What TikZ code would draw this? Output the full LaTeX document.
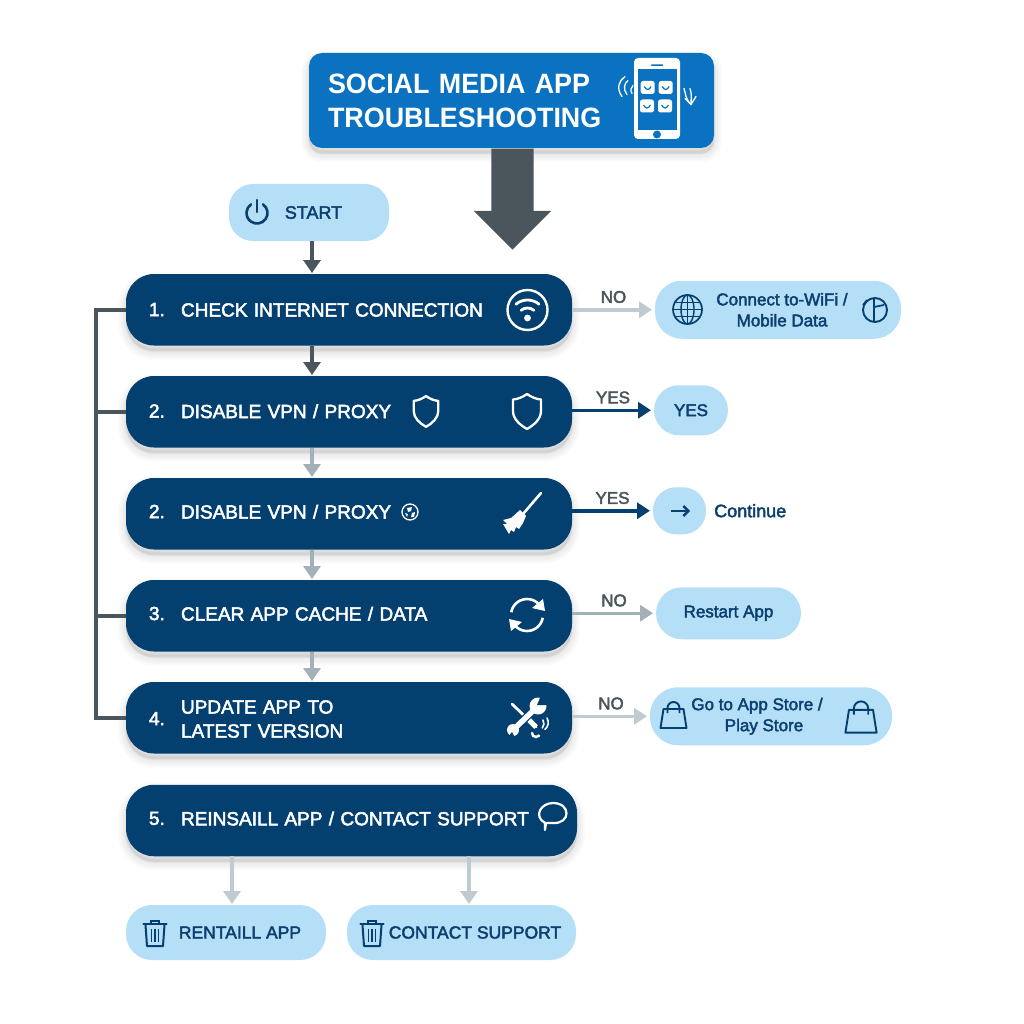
\documentclass[tikz,border=0pt]{standalone}
\usepackage{fontspec}
\setmainfont{Liberation Sans}
\newfontfamily\medfont{Liberation Sans}[FakeBold=2.4]
\newfontfamily\stepfont{Liberation Sans}[FakeBold=2.6, WordSpace=1.15]
\newfontfamily\titlefont{Liberation Sans}[FakeStretch=0.96, WordSpace=1.9]
\usepackage{tikz}
\usetikzlibrary{positioning}
\usetikzlibrary{shapes.arrows}
\usetikzlibrary{arrows.meta}

\definecolor{navy}{HTML}{03406F}
\definecolor{navytext}{HTML}{0B3F70}
\definecolor{sky}{HTML}{B5DEF7}
\definecolor{headblue}{HTML}{0A72C0}
\definecolor{slate}{HTML}{4A555C}
\definecolor{midgray}{HTML}{A4B0B8}
\definecolor{palegray}{HTML}{BFCBD0}

\newcommand{\stepline}[3][0pt]{\raisebox{#1}[\height][\depth]{\makebox[32pt][l]{#2}\begin{tabular}[c]{@{}l@{}}#3\end{tabular}}}

\tikzset{
    softshadow/.style={
        preaction={draw=black, fill=black, line width=16pt, opacity=.018, transform canvas={yshift=-6pt}},
        preaction={draw=black, fill=black, line width=12pt, opacity=.02, transform canvas={yshift=-6pt}},
        preaction={draw=black, fill=black, line width=8pt, opacity=.025, transform canvas={yshift=-6pt}},
        preaction={draw=black, fill=black, line width=4pt, opacity=.03, transform canvas={yshift=-5pt}}},
    stepbox/.style={softshadow, fill=navy, text=white, rounded corners=28pt, minimum height=71.5pt,
        minimum width=446pt, text width=400pt, inner xsep=23pt, inner ysep=0pt, outer sep=0pt,
        align=left, font=\stepfont\fontsize{19}{24}\selectfont},
    pill/.style={fill=sky, text=navytext, rounded corners=#1, inner sep=0pt, outer sep=0pt,
        align=center, font=\medfont\fontsize{17}{21}\selectfont},
    pill/.default=25pt,
    flow/.style={line width=4pt, -{Triangle[width=17pt,length=13pt]}, shorten >=1pt},
    side/.style={line width=3.5pt, -{Triangle[width=16pt,length=13pt]}, shorten >=3pt},
    answer/.style={above=5pt, text=slate, inner sep=0pt, font=\medfont\fontsize{17}{20}\selectfont},
    wifiicon/.pic={
        \draw[white, line width=2.4pt] (0,0) circle (20pt);
        \draw[white, line width=2.8pt, line cap=round] (50:18pt) ++(0,-8) arc (50:130:18pt);
        \draw[white, line width=2.8pt, line cap=round] (50:10pt) ++(0,-8) arc (50:130:10pt);
        \fill[white] (0,-8) circle (3.4pt);
    },
    shieldicon/.pic={
        \draw[white, line width=2.3pt, line join=round] (0,17) .. controls (5,13.5) and (9,12) .. (14,11.5)
            -- (14,0) .. controls (14,-8) and (7,-14) .. (0,-18)
            .. controls (-7,-14) and (-14,-8) .. (-14,0) -- (-14,11.5)
            .. controls (-9,12) and (-5,13.5) .. cycle;
    },
    broomicon/.pic={
        \draw[white, line width=2.6pt, line cap=round] (19,22) -- (1,1);
        \fill[white] (-2,5) -- (4,-1) -- (1,-8) -- (-3,-14) -- (-6,-12) -- (-8,-17) -- (-11,-15) -- (-13,-19)
            -- (-19,-9) -- (-15,-9) -- (-19,-5) -- (-11,-3) -- cycle;
    },
    syncicon/.pic={
        \draw[white, line width=2.6pt] (170:16pt) arc (170:40:16pt);
        \draw[white, line width=2.6pt] (-10:16pt) arc (-10:-140:16pt);
        \fill[white] (18,4) -- (5,7) -- (16,16) -- cycle;
        \fill[white] (-18,-4) -- (-5,-7) -- (-16,-16) -- cycle;
    },
    toolsicon/.pic={
        \draw[white, line width=2.8pt, line cap=round] (-15,14) -- (9,-9);
        \draw[white, line width=5pt] (2,-2) -- (9,-9);
        \draw[navy, line width=8pt] (-5,-3.5) -- (1,2.5);
        \draw[white, line width=5.5pt] (-13,-11) -- (9,10);
        \fill[white] (11,12) circle (8.5pt);
        \fill[navy] (10,13) -- (23,13) -- (15,25) -- cycle;
        \fill[white] (-14,-12) circle (6pt);
        \fill[navy] (-15,-14) -- (-12,-20) -- (-19,-19) -- cycle;
        \draw[white, line width=2.5pt, line cap=round] (5,-15) arc (180:320:4pt);
        \draw[white, line width=1.6pt, line cap=round] (16,-2) arc (30:-40:7pt);
        \draw[white, line width=1.6pt, line cap=round] (20,0) arc (30:-50:9pt);
    },
    chaticon/.pic={
        \draw[white, line width=2.2pt, line join=round] (-8,-8) .. controls (-20,-1) and (-12,12) .. (0,12)
            .. controls (18,12) and (18,-9) .. (0,-8) -- (-7,-8) -- (-8,-15) -- cycle;
    },
    trashicon/.pic={
        \draw[navy, line width=2pt, line join=round] (-9.5,8) -- (-8,-13) -- (8,-13) -- (9.5,8);
        \draw[navy, line width=2.2pt, line cap=round] (-11.5,9) -- (11.5,9);
        \draw[navy, line width=1.8pt] (-4,9) -- (-4,12) -- (4,12) -- (4,9);
        \foreach \barx in {-3.5,0,3.5} {
            \draw[navy, line width=1.6pt] (\barx,4) -- (\barx,-9);
        }
    },
    bagicon/.pic={
        \draw[navy, line width=1.9pt, line join=round] (-10,6) -- (10,6) -- (13,-13) -- (-13,-13) -- cycle;
        \draw[navy, line width=1.9pt] (-6,2) -- (-6,7) arc (180:0:6pt) -- (6,2);
    },
    globeicon/.pic={
        \draw[navy, line width=1.7pt] (0,0) circle (14.5pt);
        \draw[navy, line width=1.4pt] (0,0) ellipse (6.5pt and 14.5pt);
        \draw[navy, line width=1.4pt] (0,14.5) -- (0,-14.5) (-14.5,0) -- (14.5,0);
        \draw[navy, line width=1.4pt] (-12.5,7) -- (12.5,7) (-12.5,-7) -- (12.5,-7);
    },
    clockicon/.pic={
        \draw[navy, line width=1.9pt] (0,0) circle (12pt);
        \draw[navy, line width=1.7pt] (-1,12) -- (-1,3) -- (9,5) (-1,3) -- (-1,-12);
        \draw[navy, line width=1.7pt] (-12,5) -- (-8,10);
    },
    powericon/.pic={
        \draw[navytext, line width=2.6pt, line cap=round] (55:10.5pt) arc (55:-235:10.5pt);
        \draw[navytext, line width=2.6pt, line cap=round] (0,13) -- (0,1);
    },
    miniglobeicon/.pic={
        \draw[white, line width=1.3pt] (0,0) circle (8pt);
        \fill[white] (-3,4) -- (2,5) -- (1,1) -- (-2,0) -- cycle;
        \fill[white] (2,-1) -- (5,0) -- (4,-5) -- (1,-5) -- cycle;
        \fill[white] (-5,-1) -- (-2,-2) -- (-3,-5) -- cycle;
    },
    phoneicon/.pic={
        \fill[white, rounded corners=4pt] (-23,40.5) rectangle (23,-40.5);
        \fill[headblue] (-19.5,29) rectangle (19.5,-31.5);
        \fill[headblue, rounded corners=.5pt] (-6,34) rectangle (6,32.5);
        \fill[headblue] (0,-36) circle (4pt);
        \foreach \appx/\appy in {-9.3/11,8.7/11,-10/-7.5,8/-7.5} {
            \fill[white, rounded corners=2.5pt] (\appx-7,\appy-6.5) rectangle (\appx+7,\appy+6.5);
            \draw[headblue, line width=1.2pt] (\appx-3.5,\appy+1) .. controls (\appx-1,\appy-3) and (\appx+1,\appy-3) .. (\appx+3.5,\appy+1);
        }
        \draw[white, line width=1.3pt, line cap=round] (-35,2) .. controls (-41,10) and (-38,18) .. (-32,22);
        \draw[white, line width=1.3pt, line cap=round] (-30,4) .. controls (-34,9) and (-33,15) .. (-29,18);
        \draw[white, line width=1.3pt, line cap=round] (-25,5) .. controls (-27,8) and (-26,11) .. (-24,13);
        \draw[white, line width=1.3pt, line cap=round] (27,10) .. controls (29,4) and (28,1) .. (33,-5);
        \draw[white, line width=1.3pt, line cap=round] (33,10) .. controls (35,4) and (34,1) .. (34,-6);
        \draw[white, line width=1.3pt, line cap=round] (28,0) -- (34,-6) -- (39,2);
    }
}

\begin{document}
\begin{tikzpicture}[x=1pt, y=1pt]

        \useasboundingbox (0,-1024) rectangle (1024,0);

        \node[softshadow, fill=headblue, text=white, rounded corners=13pt, minimum width=405pt, minimum height=95pt,
            text width=367pt, inner xsep=19pt, inner ysep=0pt, outer sep=0pt, align=left,
            font=\titlefont\bfseries\fontsize{28}{34}\selectfont] (title) at (511.5,-100.5) {SOCIAL MEDIA APP\\TROUBLESHOOTING};
        \pic at (657,-98.5) {phoneicon};

        \node[single arrow, rotate=-90, fill=slate, minimum height=101pt, single arrow head extend=17.5pt,
            inner sep=0pt, outer sep=0pt] (bigarrow) at (512.5,-188.5) {\rule{0pt}{42pt}};

        \node[pill=24pt, minimum width=160pt, minimum height=57pt, font=\medfont\fontsize{18}{21}\selectfont] (start) at (309,-212.5) {\hspace*{9pt}START};
        \pic at (257,-213) {powericon};

        \node[stepbox] (checknet) at (349,-309.75) {\stepline[-2pt]{1.}{CHECK INTERNET CONNECTION}};
        \node[stepbox, below=30.5pt of checknet] (vpnfirst) {\stepline[-1.5pt]{2.}{DISABLE VPN / PROXY}};
        \node[stepbox, below=30.5pt of vpnfirst] (vpnsecond) {\stepline{2.}{DISABLE VPN / PROXY}};
        \node[stepbox, below=30.5pt of vpnsecond] (clearcache) {\stepline{3.}{CLEAR APP CACHE / DATA}};
        \node[stepbox, below=30.5pt of clearcache] (updateapp) {\stepline[-3pt]{4.}{UPDATE APP TO\\LATEST VERSION}};
        \node[stepbox, minimum width=451pt, text width=405pt] (reinstall) at (351.5,-820.5)
            {\stepline{5.}{REINSAILL APP / CONTACT SUPPORT}};

        \pic at (527.5,-310) {wifiicon};
        \pic[scale=.88] at (426,-411) {shieldicon};
        \pic at (527,-411) {shieldicon};
        \pic at (410,-512) {miniglobeicon};
        \pic at (522,-515) {broomicon};
        \pic at (527,-615) {syncicon};
        \pic at (527,-718) {toolsicon};
        \pic at (553,-815) {chaticon};

        \node[pill=27pt, right=83pt of checknet, minimum width=246pt, minimum height=58pt] (connect)
            {\hspace*{8pt}Connect to-WiFi /\\\hspace*{8pt}Mobile Data};
        \node[pill, right=82pt of vpnfirst, yshift=1.5pt, minimum width=74pt, minimum height=50pt] (yesbox) {YES};
        \node[pill=23pt, right=81pt of vpnsecond, yshift=3pt, minimum width=53pt, minimum height=47pt] (contbox) {};
        \node[right=8pt of contbox, inner sep=0pt, text=navytext, font=\medfont\fontsize{18}{20}\selectfont] (conttext) {Continue};
        \node[pill=26pt, right=84pt of clearcache, yshift=2.5pt, minimum width=145pt, minimum height=52pt] (restart) {Restart App};
        \node[pill=28pt, right=78pt of updateapp, yshift=1.5pt, minimum width=242pt, minimum height=58pt] (gostore)
            {Go to App Store /\hspace*{28pt}\\Play Store\hspace*{14pt}};

        \pic at (687.5,-309.5) {globeicon};
        \pic at (875,-310) {clockicon};
        \draw[navytext, line width=2.4pt, -{Straight Barb[length=5pt,width=10pt]}] (671,-511) -- (690,-511);
        \pic at (673.5,-715) {bagicon};
        \pic[scale=1.2] at (861,-717) {bagicon};

        \node[pill=26pt, minimum width=200pt, minimum height=55pt, font=\medfont\fontsize{17.5}{21}\selectfont] (rentail) at (226,-932.5) {\hspace*{28pt}RENTAILL APP};
        \node[pill=26pt, minimum width=229pt, minimum height=55pt, font=\medfont\fontsize{17.5}{21}\selectfont] (contact) at (461.5,-932.5) {\hspace*{27pt}CONTACT SUPPORT};
        \pic at (155,-933) {trashicon};
        \pic at (372,-933) {trashicon};

        \coordinate (busline) at (96,-500);
        \coordinate (downline) at (312,-500);
        \draw[slate, line width=4pt] (checknet.west) -- (checknet.west -| busline) -- (updateapp.west -| busline) -- (updateapp.west);
        \draw[slate, line width=4pt] (vpnfirst.west) -- (vpnfirst.west -| busline);
        \draw[slate, line width=4pt] (clearcache.west) -- (clearcache.west -| busline);

        \draw[flow, slate] (start.south -| downline) -- (checknet.north -| downline);
        \draw[flow, slate] (checknet.south -| downline) -- (vpnfirst.north -| downline);
        \draw[flow, midgray] (vpnfirst.south -| downline) -- (vpnsecond.north -| downline);
        \draw[flow, midgray] (vpnsecond.south -| downline) -- (clearcache.north -| downline);
        \draw[flow, midgray] (clearcache.south -| downline) -- (updateapp.north -| downline);

        \draw[side, palegray] (checknet.east) -- node[answer] {NO} (connect.west);
        \draw[side, navy] (vpnfirst.east |- yesbox.west) -- node[answer] {YES} (yesbox.west);
        \draw[side, navy] (vpnsecond.east |- contbox.west) -- node[answer] {YES} (contbox.west);
        \draw[side, midgray] (clearcache.east |- restart.west) -- node[answer] {NO} (restart.west);
        \draw[side, palegray] (updateapp.east |- gostore.west) -- node[answer] {NO} (gostore.west);

        \draw[flow, palegray] (reinstall.south -| 232,0) -- (rentail.north -| 232,0);
        \draw[flow, palegray] (reinstall.south -| 469,0) -- (contact.north -| 469,0);

    \end{tikzpicture}
\end{document}
